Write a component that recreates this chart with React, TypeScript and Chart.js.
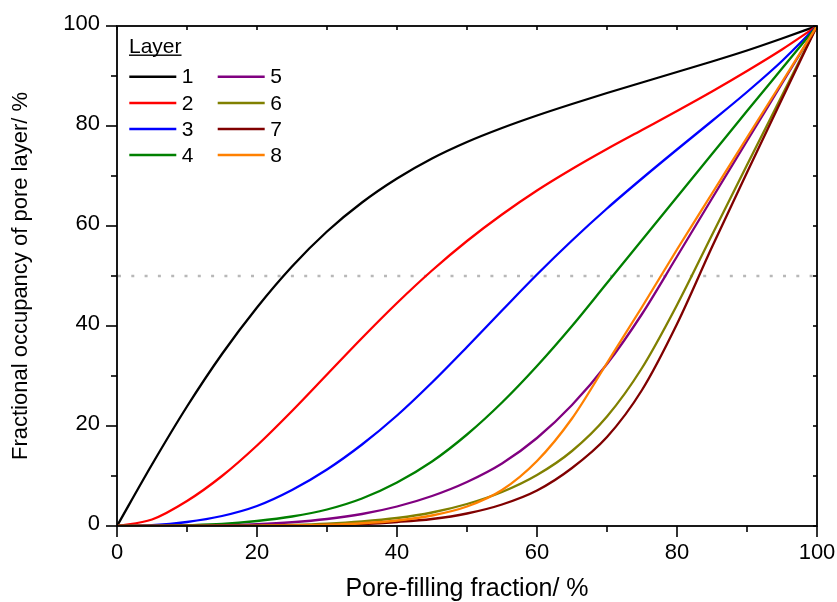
import React, { useEffect, useRef } from 'react';
import { Chart, registerables } from 'chart.js';

Chart.register(...registerables);

// Pore-filling fraction (%) — shared x values
const poreFilling = [0, 5, 10, 15, 20, 25, 30, 35, 40, 45, 50, 55, 60, 65, 70, 75, 80, 85, 90, 95, 100];

// Fractional occupancy (%) of each pore layer
const layer1 = [0, 12.3, 23.9, 34.4, 43.7, 51.9, 58.9, 64.7, 69.5, 73.5, 76.8, 79.6, 82.1, 84.4, 86.6, 88.7, 90.8, 92.9, 95.1, 97.5, 100];
const layer2 = [0, 1.3, 5.0, 10.0, 16.1, 23.0, 30.3, 37.6, 44.6, 51.1, 57.0, 62.3, 67.1, 71.4, 75.4, 79.2, 83.0, 86.9, 91.0, 95.3, 100];
const layer3 = [0, 0.15, 0.8, 2.0, 4.0, 7.2, 11.3, 16.3, 22.1, 28.7, 35.8, 43.1, 50.3, 57.1, 63.5, 69.5, 75.3, 81.0, 86.8, 93.0, 100];
const layer4 = [0, 0.02, 0.15, 0.4, 1.0, 1.9, 3.3, 5.5, 8.7, 12.9, 18.3, 24.7, 32.0, 40.0, 48.6, 57.2, 65.8, 74.4, 83.0, 91.5, 100];
const layer5 = [0, 0, 0.03, 0.12, 0.35, 0.75, 1.4, 2.4, 3.9, 6.0, 8.8, 12.5, 17.6, 24.2, 32.4, 42.4, 53.9, 65.5, 77.0, 88.5, 100];
const layer6 = [0, 0, 0, 0.03, 0.08, 0.2, 0.45, 0.9, 1.6, 2.7, 4.4, 6.8, 10.2, 15.0, 21.9, 31.6, 44.2, 58.2, 72.2, 86.1, 100];
const layer7 = [0, 0, 0, 0, 0.03, 0.08, 0.2, 0.4, 0.8, 1.4, 2.5, 4.3, 7.1, 11.6, 17.8, 27.2, 40.4, 55.8, 70.7, 85.4, 100];
const layer8 = [0, 0, 0, 0.01, 0.04, 0.1, 0.25, 0.55, 1.1, 2.1, 3.9, 7.2, 13.0, 21.5, 32.6, 43.8, 55.3, 66.5, 77.7, 88.8, 100];

const layerNames = ['1', '2', '3', '4', '5', '6', '7', '8'];
const layerColors = ['#000000', '#ff0000', '#0000ff', '#008000', '#800080', '#808000', '#800000', '#ff8000'];

// Reference line at half occupancy
const halfX = [0, 100];
const halfY = [50, 50];

const xTickValues = [0, 20, 40, 60, 80, 100];
const yTickValues = [0, 20, 40, 60, 80, 100];
const minorTickValues = [10, 30, 50, 70, 90];

const FONT = '"Liberation Sans", Arial, sans-serif';

const framePlugin = {
  id: 'frameAndTicks',
  beforeDatasetsDraw(chart: any) {
    const { ctx, scales } = chart;
    const xs = scales.x;
    const ys = scales.y;
    ctx.save();
    ctx.strokeStyle = '#b8b8b8';
    ctx.lineWidth = 2.6;
    ctx.setLineDash([3, 10.3]);
    ctx.lineDashOffset = 0;
    ctx.beginPath();
    ctx.moveTo(xs.getPixelForValue(halfX[0]) + 1, ys.getPixelForValue(halfY[0]));
    ctx.lineTo(xs.getPixelForValue(halfX[1]), ys.getPixelForValue(halfY[1]));
    ctx.stroke();
    ctx.restore();
  },
  afterDatasetsDraw(chart: any) {
    const { ctx, chartArea, scales } = chart;
    const { left, top, right, bottom } = chartArea;
    const xs = scales.x;
    const ys = scales.y;
    ctx.save();
    ctx.strokeStyle = '#000';
    ctx.lineWidth = 1.8;
    ctx.strokeRect(left, top, right - left, bottom - top);
    ctx.lineWidth = 1.6;
    const seg = (x1: number, y1: number, x2: number, y2: number) => {
      ctx.beginPath();
      ctx.moveTo(x1, y1);
      ctx.lineTo(x2, y2);
      ctx.stroke();
    };
    const allX = [...xTickValues.map((v) => [v, 1]), ...minorTickValues.map((v) => [v, 0])];
    allX.forEach(([v, major]) => {
      const len = major ? 11 : 6;
      const px = xs.getPixelForValue(v);
      seg(px, bottom, px, bottom + len);
      seg(px, top, px, top + 4);
    });
    const allY = [...yTickValues.map((v) => [v, 1]), ...minorTickValues.map((v) => [v, 0])];
    allY.forEach(([v, major]) => {
      const len = major ? 11 : 6;
      const py = ys.getPixelForValue(v);
      seg(left - len, py, left, py);
      seg(right - 4, py, right, py);
    });
    ctx.restore();
  },
  afterDraw(chart: any) {
    const { ctx } = chart;
    ctx.save();
    ctx.fillStyle = '#000';
    ctx.font = `21px ${FONT}`;
    ctx.textBaseline = 'alphabetic';
    ctx.textAlign = 'left';
    const tx = 129;
    ctx.fillText('Layer', tx, 53);
    const w = ctx.measureText('Layer').width;
    ctx.fillRect(tx, 54.5, w, 1.4);

    const rowsY = [76.7, 103, 129, 155];
    const colX = [129.3, 217.7];
    const datasets = chart.data.datasets;
    datasets.forEach((d: any, i: number) => {
      const col = i < 4 ? 0 : 1;
      const row = i % 4;
      const x0 = colX[col];
      const x1 = x0 + 47;
      const y = rowsY[row];
      ctx.strokeStyle = d.borderColor;
      ctx.lineWidth = 2.6;
      ctx.beginPath();
      ctx.moveTo(x0, y);
      ctx.lineTo(x1, y);
      ctx.stroke();
      ctx.fillStyle = '#000';
      ctx.font = `21px ${FONT}`;
      ctx.textBaseline = 'middle';
      ctx.fillText(d.label, x1 + 5.5, y + 1);
    });
    ctx.restore();
  },
};

export default function App() {
  const ref = useRef<HTMLCanvasElement>(null);

  useEffect(() => {
    document.body.style.margin = '0';
    const series = [layer1, layer2, layer3, layer4, layer5, layer6, layer7, layer8];
    const datasets: any[] = series.map((s, i) => ({
      label: layerNames[i],
      data: poreFilling.map((x, j) => ({ x, y: s[j] })),
      borderColor: layerColors[i],
      backgroundColor: layerColors[i],
      borderWidth: 2.3,
      pointRadius: 0,
      cubicInterpolationMode: 'monotone',
      fill: false,
      order: -(i + 1),
    }));

    const chart = new Chart(ref.current as HTMLCanvasElement, {
      type: 'line',
      data: { datasets },
      plugins: [framePlugin],
      options: {
        responsive: false,
        animation: false,
        devicePixelRatio: 1,
        layout: { padding: { left: 0, right: 20, top: 26, bottom: 0 } },
        plugins: {
          legend: { display: false },
          tooltip: { enabled: false },
        },
        scales: {
          x: {
            type: 'linear',
            min: 0,
            max: 100,
            grid: { display: false, drawTicks: false, tickLength: 0 },
            border: { display: false },
            afterBuildTicks: (s: any) => {
              s.ticks = xTickValues.map((v) => ({ value: v }));
            },
            afterFit: (s: any) => {
              s.height = 76;
              s.paddingLeft = 0;
              s.paddingRight = 0;
            },
            ticks: {
              autoSkip: false,
              maxRotation: 0,
              padding: 14,
              color: '#000',
              font: { size: 22, family: FONT },
            },
            title: {
              display: true,
              text: 'Pore-filling fraction/ %',
              color: '#000',
              font: { size: 25, family: FONT, lineHeight: 1 },
              padding: { top: 0, bottom: 0 },
            },
          },
          y: {
            type: 'linear',
            min: 0,
            max: 100,
            grid: { display: false, drawTicks: false, tickLength: 0 },
            border: { display: false },
            afterBuildTicks: (s: any) => {
              s.ticks = yTickValues.map((v) => ({ value: v }));
            },
            afterFit: (s: any) => {
              s.width = 117;
              s.paddingTop = 0;
              s.paddingBottom = 0;
            },
            ticks: {
              autoSkip: false,
              padding: 17,
              labelOffset: -2,
              color: '#000',
              font: { size: 22, family: FONT },
            },
            title: {
              display: true,
              text: 'Fractional occupancy of pore layer/ %',
              color: '#000',
              font: { size: 22, family: FONT, lineHeight: 1 },
              padding: { top: 10, bottom: 0 },
            },
          },
        },
      } as any,
    });
    return () => chart.destroy();
  }, []);

  return (
    <div style={{ position: 'absolute', left: 0, top: 0, width: 837, height: 602, background: '#fff' }}>
      <canvas ref={ref} width={837} height={602} style={{ display: 'block', width: 837, height: 602 }} />
    </div>
  );
}
